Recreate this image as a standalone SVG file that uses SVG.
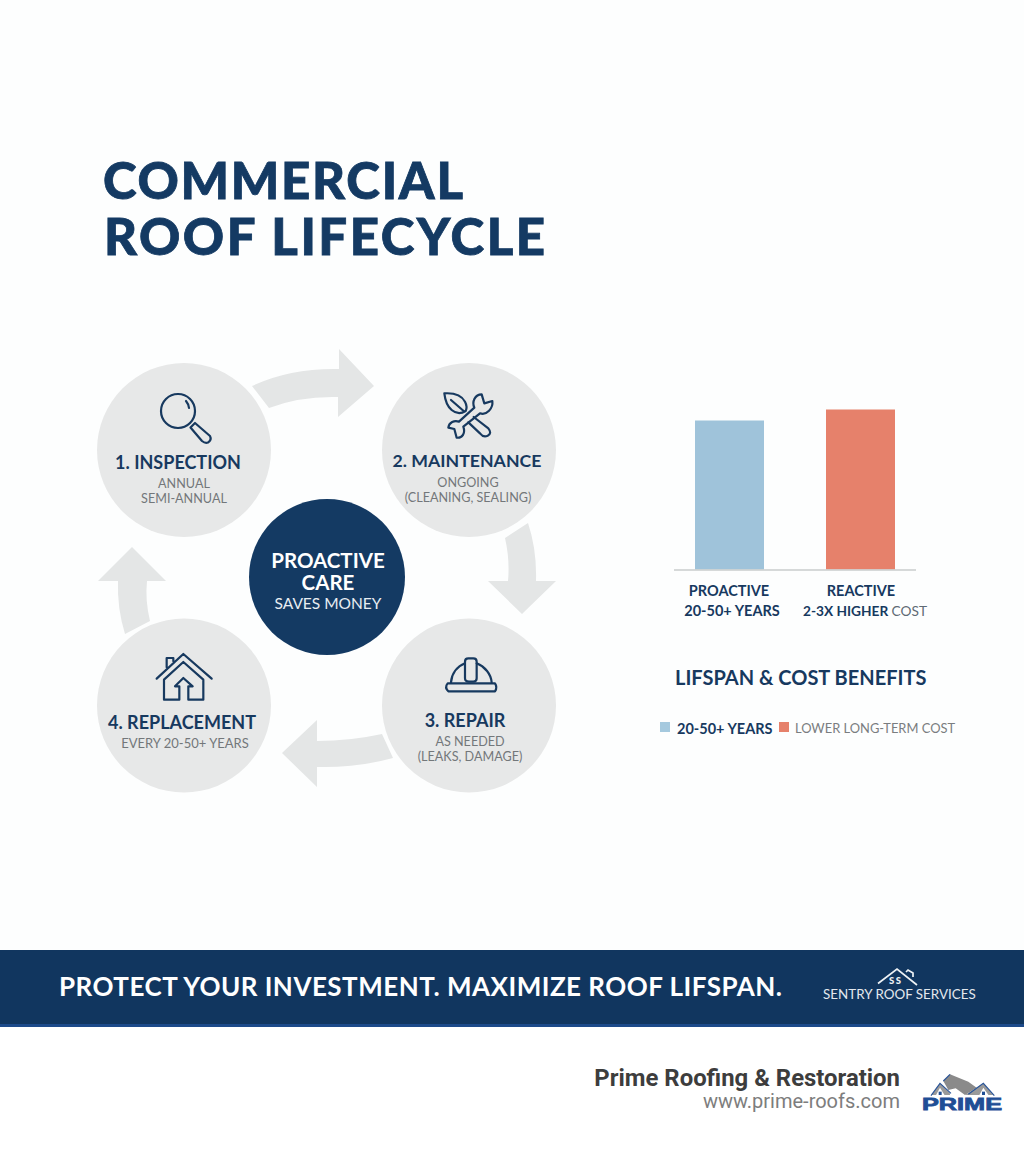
<svg xmlns="http://www.w3.org/2000/svg" width="1024" height="1154" viewBox="0 0 1024 1154">
<style>
text{font-family:"Lato","Liberation Sans",sans-serif}
.t{font-weight:700;fill:#17395f;text-anchor:middle}
.s{fill:#73777a;font-size:12.600px;text-anchor:middle}
.c{fill:#e7e8e8}
.a{fill:#e4e6e6}
.i{fill:none;stroke:#17395f;stroke-width:2.200;stroke-linejoin:round;stroke-linecap:round}
.z{stroke-width:6.600}
</style>
<rect width="1024" height="1154" fill="#fdfefe"/>
<g id="title">
<text x="103" y="199" font-size="51" font-weight="900" fill="#143a63" stroke="#143a63" stroke-width="0.800" textLength="360" lengthAdjust="spacing">COMMERCIAL</text>
<text x="104" y="254.500" font-size="51" font-weight="900" fill="#143a63" stroke="#143a63" stroke-width="0.800" textLength="441" lengthAdjust="spacing">ROOF LIFECYCLE</text>
</g>
<g id="connectors">
<path class="a" d="M252,386Q290,368 339,369V349L374,386L338,417V397Q300,396 269,408Z"/>
<path class="a" d="M505,538Q510,560 508,581H488L522,614L556,581H536Q537,550 528,523Z"/>
<path class="a" d="M382,734Q350,741 317,741V720L282,753L317,787V767Q357,768 393,758Z"/>
<path class="a" d="M125,634Q117,608 118,581H98L132,547L166,581H147Q145,600 150,621Z"/>
</g>
<g id="node-inspection">
<circle class="c" cx="184" cy="450" r="87"/>
<circle class="i" cx="178" cy="411" r="17"/>
<path class="i" d="M186,401A13,13 0 0 1 189,408" stroke-width="1.800"/>
<path class="i" d="M190.500,427.500L195,423L210,436Q212,440 208,442.500Q205,443.500 202,441Z"/>
<text class="t" x="178" y="469" font-size="18">1. INSPECTION</text>
<text class="s" x="184" y="488">ANNUAL</text>
<text class="s" x="184" y="503">SEMI-ANNUAL</text>
</g>
<g id="node-maintenance">
<circle class="c" cx="469" cy="450" r="87"/>
<g transform="translate(435,385) scale(.3333)">
<path class="i z" d="M28,25Q75,22 90,50Q98,65 92,78Q70,92 50,75Q32,60 28,25ZM48,45L86,78"/>
<path class="i z" d="M140,28C120,28 110,50 118,68L72,110C58,105 42,112 40,128L58,132L65,158C82,160 92,145 85,125L135,85C155,92 175,70 172,48L148,55Z"/>
<path class="i z" d="M116,96L160,130Q172,145 158,152Q145,158 135,145L100,112"/>
</g>
<text class="t" x="467" y="467" font-size="17.700">2. MAINTENANCE</text>
<text class="s" x="468" y="487">ONGOING</text>
<text class="s" x="468" y="502">(CLEANING, SEALING)</text>
</g>
<g id="node-repair">
<circle class="c" cx="469" cy="705.500" r="87"/>
<g transform="translate(435,650) scale(.3333)">
<path class="i z" d="M48,97C50,72 65,50 90,40M125,40C150,50 168,72 170,97"/>
<path class="i z" d="M90,35Q90,25 100,25H115Q125,25 125,35V85Q125,95 115,95H102Q90,95 90,85Z"/>
<path class="i z" d="M38,100H180Q188,112 180,124H40Q28,112 38,100Z"/>
</g>
<text class="t" x="465" y="727" font-size="18">3. REPAIR</text>
<text class="s" x="470" y="746">AS NEEDED</text>
<text class="s" x="470" y="761">(LEAKS, DAMAGE)</text>
</g>
<g id="node-replacement">
<circle class="c" cx="184" cy="705.500" r="87"/>
<g transform="translate(150,648) scale(.3333)">
<path class="i z" d="M20,92L100,18L185,92M50,58V30H70V40M42,95L100,42L160,95M42,95V155H88V115H75L100,90L128,115H115V155H160V95"/>
</g>
<text class="t" x="182" y="729" font-size="18">4. REPLACEMENT</text>
<text class="s" x="185" y="748" style="font-size:13px">EVERY 20-50+ YEARS</text>
</g>
<g id="node-center">
<circle cx="327" cy="577" r="78" fill="#143a63"/>
<text x="328" y="568" font-size="20.500" font-weight="700" fill="#fff" text-anchor="middle">PROACTIVE</text>
<text x="328" y="590" font-size="20.500" font-weight="700" fill="#fff" text-anchor="middle">CARE</text>
<text x="328" y="609" font-size="15.500" fill="#e8edf2" text-anchor="middle">SAVES MONEY</text>
</g>
<g id="chart">
<rect x="695" y="420.500" width="69" height="149" fill="#9fc3da"/>
<rect x="826" y="409.500" width="69" height="160" fill="#e6816b"/>
<line x1="674" y1="570" x2="916" y2="570" stroke="#c9cccd" stroke-width="1.500"/>
<text class="t" x="729" y="596" font-size="14.500">PROACTIVE</text>
<text class="t" x="732" y="616" font-size="14.500">20-50+ YEARS</text>
<text class="t" x="861" y="596" font-size="14.500">REACTIVE</text>
<text x="803" y="616" font-size="13.700" font-weight="700" fill="#17395f">2-3X HIGHER <tspan fill="#5f6a75" font-weight="400">COST</tspan></text>
<text x="675" y="685" font-size="20" font-weight="700" fill="#17395f">LIFSPAN &amp; COST BENEFITS</text>
<rect x="660" y="722" width="10" height="10" fill="#a5c9de"/>
<text x="677" y="734" font-size="14.500" font-weight="700" fill="#17395f">20-50+ YEARS</text>
<rect x="779" y="722" width="10" height="10" fill="#e6816b"/>
<text x="795" y="733" font-size="12.900" fill="#7a7d80">LOWER LONG-TERM COST</text>
</g>
<g id="banner">
<rect x="0" y="950" width="1024" height="74" fill="#11365f"/>
<rect x="0" y="1024" width="1024" height="3" fill="#1c4a8a"/>
<text x="59" y="996" font-size="26" font-weight="700" fill="#fff" textLength="723" lengthAdjust="spacing">PROTECT YOUR INVESTMENT. MAXIMIZE ROOF LIFSPAN.</text>
<path d="M878,983.500L897,969L917,985M906,972L908,970L913,973V977" fill="none" stroke="#eef2f5" stroke-width="1.700"/>
<text x="889" y="984" font-size="9.500" font-weight="900" fill="#eef2f5" letter-spacing="1.500">SS</text>
<text x="823" y="999" font-size="13.400" fill="#e3e8ee" font-family="Roboto,Inter,sans-serif">SENTRY ROOF SERVICES</text>
</g>
<g id="footer">
<rect x="0" y="1027" width="1024" height="127" fill="#fff"/>
<text x="900" y="1086" font-size="23.900" font-weight="700" fill="#3d3d3d" text-anchor="end" style="font-family:Roboto,sans-serif">Prime Roofing &amp; Restoration</text>
<text x="900" y="1108" font-size="20" fill="#7d7d7d" text-anchor="end" style="font-family:Roboto,sans-serif">www.prime-roofs.com</text>
<g transform="translate(915,1065) scale(.3333)">
<path d="M85,48L105,28L160,50L185,68L150,90L122,70L100,75Z" fill="#8a8a8a"/>
<path d="M50,90L75,55L105,85V90Z" fill="#9a9a9a"/>
<path d="M150,90L205,55L235,90Z" fill="#9a9a9a"/>
<path d="M62,92L75,68L90,92ZM192,92L205,68L222,92Z" fill="#fff"/>
<path d="M48,92L75,55L108,85M85,48L105,28M160,88L205,55L238,92" fill="none" stroke="#2a5599" stroke-width="3.500"/>
<rect x="71" y="80" width="9" height="10" fill="#1f4e95"/>
<rect x="201" y="80" width="9" height="10" fill="#1f4e95"/>
</g>
<text x="922" y="1110" font-size="17" font-weight="700" fill="#1f4e95" stroke="#1f4e95" stroke-width="0.800" textLength="80" lengthAdjust="spacingAndGlyphs" style="font-family:'Liberation Sans',sans-serif">PRIME</text>
</g>
</svg>
